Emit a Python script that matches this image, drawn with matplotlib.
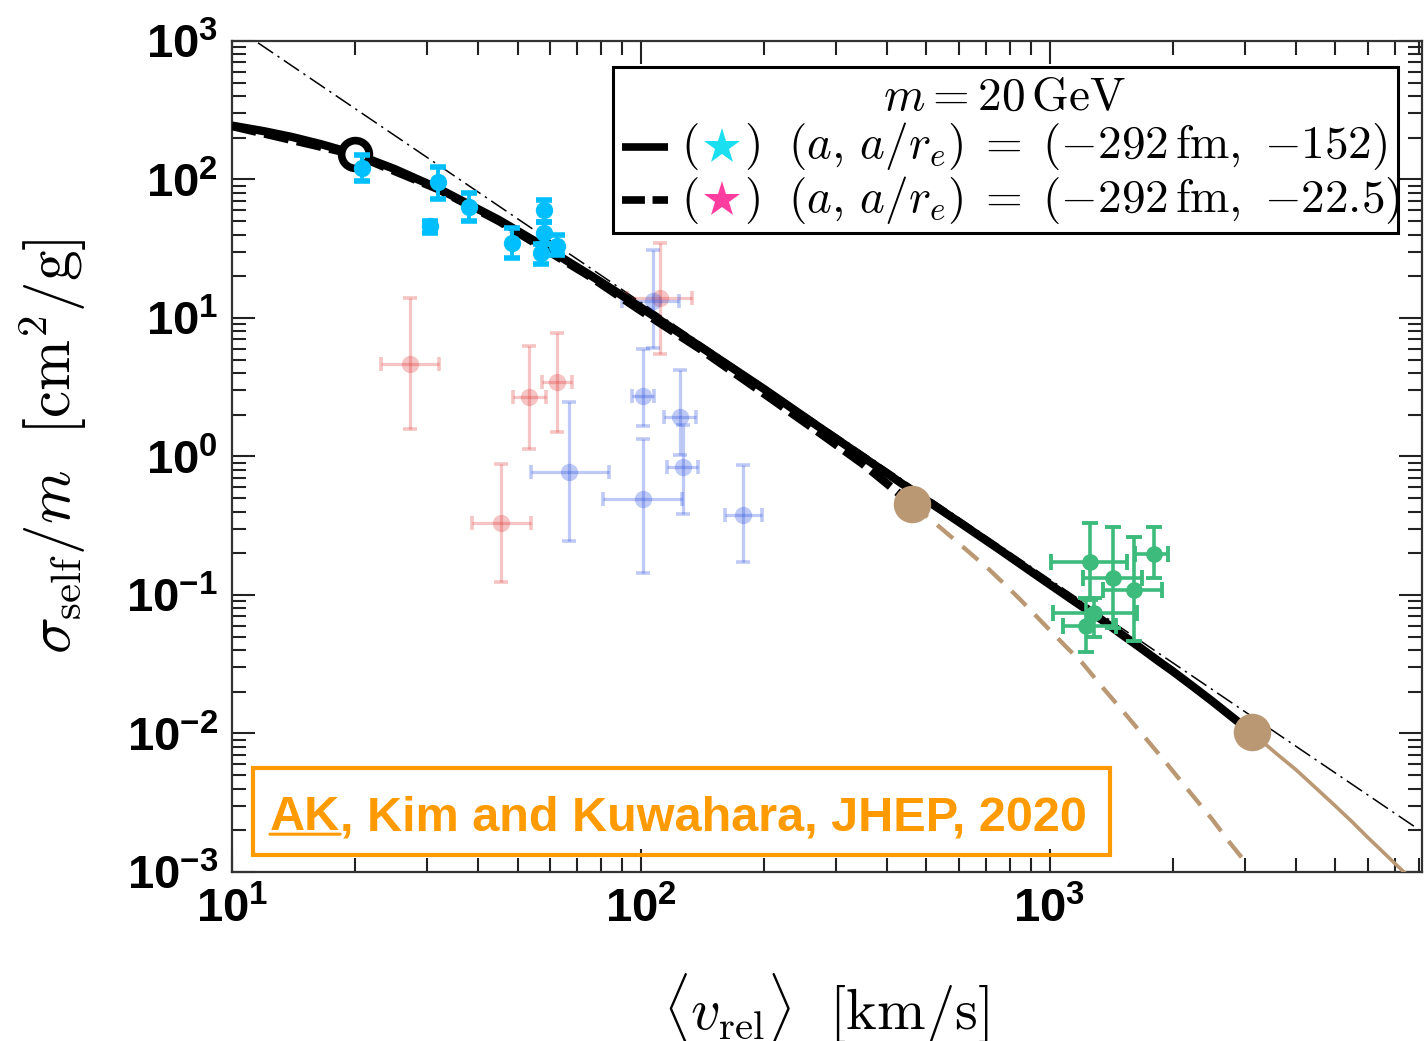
import numpy as np
import matplotlib
matplotlib.use("Agg")
import matplotlib.pyplot as plt
from matplotlib.patches import Rectangle
from matplotlib.ticker import NullFormatter, LogLocator

plt.rcParams['mathtext.fontset'] = 'cm'
plt.rcParams['mathtext.bf'] = 'Liberation Sans:bold'
plt.rcParams['mathtext.rm'] = 'Liberation Sans'
plt.rcParams['mathtext.it'] = 'Liberation Sans:italic'
plt.rcParams['mathtext.sf'] = 'Liberation Sans'

# model curves, sigma/m [cm^2/g] vs <v_rel> [km/s]
v_solid = [10, 12, 14, 16.5, 20, 25, 32, 45, 55, 75, 100, 140, 200, 274, 350, 460, 600, 754, 945,
		   1150, 1325, 1500, 1660, 1850, 2000, 2250, 2500, 2800, 3120]
s_solid = [245, 223, 203, 180, 153, 119, 86, 51, 36, 20.5, 11.9, 6.2, 3.08, 1.62, 0.99, 0.57, 0.337, 0.213, 0.134,
		   0.090, 0.068, 0.052, 0.042, 0.0332, 0.0282, 0.0217, 0.0171, 0.0131, 0.0102]
v_solid_tail = [3120, 3600, 4000, 4500, 5000, 5500, 6000, 6500, 7000, 7500, 8200]
s_solid_tail = [0.0102, 0.0071, 0.0055, 0.0040, 0.0030, 0.0023, 0.00178, 0.00142, 0.00115, 0.00095, 0.00074]

v_dashed = [10, 20, 32, 45, 75, 100, 140, 200, 274, 350, 460]
s_dashed = [243, 151, 85, 50, 20, 11.3, 5.95, 2.85, 1.48, 0.88, 0.455]
v_dashed_tail = [460, 530, 600, 660, 713, 780, 850, 925, 1000, 1100, 1204, 1350, 1500, 1700, 1932, 2200, 2500, 2750, 3050]
s_dashed_tail = [0.455, 0.322, 0.236, 0.185, 0.152, 0.118, 0.092, 0.071, 0.056, 0.042, 0.0322, 0.0214, 0.0149,
				 0.0096, 0.0061, 0.0038, 0.0024, 0.00165, 0.00113]

# unitarity limit
v_unit = [10, 8200]
s_unit = [1300, 0.00193]

# low-velocity reference point
v_ref = [20]
s_ref = [153]

# dwarfs / LSBs
cyan_v = [20.8, 31.9, 30.5, 38.0, 48.4, 57.9, 57.9, 56.9, 62.3]
cyan_s = [121, 95.9, 46.2, 63.3, 34.8, 60.2, 41.1, 29.5, 33.1]
cyan_lo = [97.5, 72.3, 41.1, 50.2, 27.1, 49.3, 34.2, 24.5, 28.5]
cyan_hi = [150, 123, 50.0, 80, 44.6, 71.1, 49.3, 34.2, 39.7]

red_v = [27.2, 53.2, 62.3, 45.5, 111.3]
red_vlo = [23.1, 48.6, 57.3, 38.6, 92.4]
red_vhi = [32.1, 58.6, 67.8, 53.8, 133.3]
red_s = [4.66, 2.69, 3.45, 0.331, 13.9]
red_lo = [1.58, 1.13, 1.50, 0.124, 5.50]
red_hi = [13.9, 6.28, 7.80, 0.883, 34.8]

blue_v = [107.0, 101.1, 66.7, 101.1, 124.5, 126.7, 177.6]
blue_vlo = [89.9, 95.0, 53.8, 80.7, 113.8, 115.8, 160.5]
blue_vhi = [123.8, 107.6, 83.5, 126.0, 136.3, 137.8, 197.6]
blue_s = [13.3, 2.73, 0.773, 0.493, 1.93, 0.840, 0.378]
blue_lo = [6.08, 1.66, 0.245, 0.144, 1.03, 0.385, 0.173]
blue_hi = [31.0, 5.97, 2.47, 1.34, 4.22, 1.69, 0.868]

# clusters
green_v = [1253, 1426, 1796, 1605, 1288, 1231]
green_vlo = [1011, 1204, 1614, 1348, 1017, 1076]
green_vhi = [1551, 1688, 1954, 1889, 1632, 1450]
green_s = [0.173, 0.133, 0.198, 0.1087, 0.0741, 0.0597]
green_lo = [0.092, 0.0578, 0.133, 0.0466, 0.050, 0.0387]
green_hi = [0.331, 0.310, 0.310, 0.262, 0.0951, 0.0951]

legend_title = r'$m = 20\,\mathrm{GeV}$'
legend_rows = [r'$(a,\, a/r_e)\; =\; (-292\,\mathrm{fm},\ {-}152)$',
			   r'$(a,\, a/r_e)\; =\; (-292\,\mathrm{fm},\ {-}22.5)$']
star_colors = ['#19dff0', '#ff3d9f']

TAN = '#ba9873'
ORANGE = '#ff9a00'


def err(x, lo, hi):
	x = np.array(x)
	return [x - np.array(lo), np.array(hi) - x]


def points(ax, v, s, xerr, yerr, color, ms, lw, cap, capw, alpha=1.0, z=6):
	ax.errorbar(v, s, xerr=xerr, yerr=yerr, fmt='none', ecolor=color, elinewidth=lw,
				capsize=cap, capthick=capw, alpha=alpha, zorder=z)
	ax.plot(v, s, 'o', color=color, ms=ms, mew=0, alpha=alpha, zorder=z)


fig = plt.figure(figsize=(14.27, 10.41), dpi=100)
ax = fig.add_axes([0.16258, 0.16235, 0.83392, 0.79827])

ax.plot(v_unit, s_unit, color='black', lw=1.1, ls=(0, (12, 3.5, 1.5, 3.5)), zorder=1)

points(ax, red_v, red_s, err(red_v, red_vlo, red_vhi), err(red_s, red_lo, red_hi),
	   '#e03c3c', 12.5, 2.3, 5, 2.6, alpha=0.3, z=2)
points(ax, blue_v, blue_s, err(blue_v, blue_vlo, blue_vhi), err(blue_s, blue_lo, blue_hi),
	   '#2a50e0', 12.5, 2.3, 5, 2.6, alpha=0.3, z=2)

ax.plot(v_dashed, s_dashed, color='black', lw=6, ls=(0, (3, 1)), zorder=3)
ax.plot(v_solid, s_solid, color='black', lw=6, solid_capstyle='butt', solid_joinstyle='round', zorder=4)
ax.plot(v_dashed_tail, s_dashed_tail, color=TAN, lw=3.1, ls=(0, (4.8, 2.9)), zorder=4)
ax.plot(v_solid_tail, s_solid_tail, color=TAN, lw=2.6, zorder=4)
ax.plot([v_dashed_tail[0], v_solid_tail[0]], [s_dashed_tail[0], s_solid_tail[0]], 'o', color=TAN, ms=27, mew=0, zorder=5)

ax.plot(v_ref, s_ref, 'o', mfc='white', mec='black', ms=20, mew=5.5, zorder=5)

points(ax, cyan_v, cyan_s, None, err(cyan_s, cyan_lo, cyan_hi), '#00bfff', 12.5, 2.8, 6, 4)
points(ax, green_v, green_s, err(green_v, green_vlo, green_vhi), err(green_s, green_lo, green_hi),
	   '#3dbb7d', 12, 2.6, 5.5, 2.8)

ax.set_xscale('log')
ax.set_yscale('log')
ax.set_xlim(10, 8150)
ax.set_ylim(1e-3, 1e3)

ax.set_xticks([10, 100, 1000], [r'$\mathbf{10^{%d}}$' % i for i in (1, 2, 3)], math_fontfamily='custom', fontsize=34)
ax.set_yticks([10.0**i for i in range(-3, 4)], [r'$\mathbf{10^{%d}}$' % i for i in range(-3, 4)],
			  math_fontfamily='custom', fontsize=34)
ax.xaxis.set_minor_locator(LogLocator(base=10, subs=np.arange(2, 10)))
ax.yaxis.set_minor_locator(LogLocator(base=10, subs=np.arange(2, 10)))
ax.xaxis.set_minor_formatter(NullFormatter())
ax.yaxis.set_minor_formatter(NullFormatter())
ax.tick_params(which='both', direction='in', top=True, right=True, width=1.5, color='#222222')
ax.tick_params(which='major', length=16.5)
ax.tick_params(which='minor', length=10)
ax.tick_params(axis='x', pad=11)
ax.tick_params(axis='y', pad=10)
for sp in ax.spines.values():
	sp.set_linewidth(1.6)
	sp.set_color('#333333')

fig.text(0.579, 0.0106, r'$\langle v_{\rm rel}\rangle\ \ [{\rm km}/{\rm s}]$', fontsize=42, ha='center', va='baseline')
fig.text(0.0501, 0.5716, r'$\sigma_{\rm self}/m\ \ [{\rm cm}^2/{\rm g}]$', fontsize=44, rotation=90,
		 rotation_mode='anchor', ha='center', va='baseline')

# legend box
tr = ax.transAxes
ax.add_patch(Rectangle((0.320, 0.769), 0.660, 0.1997, transform=tr, fill=True, fc='white', ec='black', lw=2.2, zorder=10))
ax.text(0.6496, 0.917, legend_title, transform=tr, fontsize=34, ha='center', va='baseline', zorder=11)
row_y = [0.8724, 0.8087]
row_base = [0.8592, 0.794]
handle_ls = ['-', (0, (3, 1))]
for y, yb, ls, sc, lab in zip(row_y, row_base, handle_ls, star_colors, legend_rows):
	ax.plot([0.3277, 0.3664], [y, y], transform=tr, color='black', lw=5.5, ls=ls, solid_capstyle='butt', zorder=11)
	ax.text(0.3849, yb, '$($', transform=tr, fontsize=34, ha='center', va='baseline', zorder=11)
	ax.plot([0.4118], [y], transform=tr, marker='*', color=sc, ms=27, mew=0, zorder=11)
	ax.text(0.4370, yb, '$)$', transform=tr, fontsize=34, ha='center', va='baseline', zorder=11)
	ax.text(0.4672, yb, lab, transform=tr, fontsize=34, ha='left', va='baseline', zorder=11)

# reference box
ax.add_patch(Rectangle((0.01765, 0.0205), 0.7201, 0.1046, transform=tr, fill=False, ec=ORANGE, lw=3, zorder=10))
t1 = ax.text(0.0319, 0.0505, 'AK', transform=tr, fontsize=35, fontweight='bold', family='Liberation Sans',
			 color=ORANGE, ha='left', va='baseline', zorder=11)
ax.annotate(', Kim and Kuwahara, JHEP, 2020', xy=(1, 0), xycoords=t1, fontsize=35, fontweight='bold',
			family='Liberation Sans', color=ORANGE, ha='left', va='bottom', zorder=11)
ax.annotate('', xy=(0, 0.13), xycoords=t1, xytext=(1, 0.13), textcoords=t1,
			arrowprops=dict(arrowstyle='-', color=ORANGE, lw=2.2, shrinkA=0, shrinkB=0), zorder=11)

fig.savefig('out.png', dpi=100)
